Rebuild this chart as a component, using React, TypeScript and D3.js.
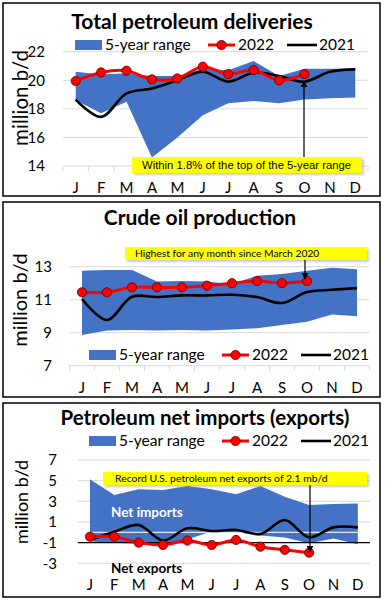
import * as React from "react";
import * as d3 from "d3";

const months = ["J", "F", "M", "A", "M", "J", "J", "A", "S", "O", "N", "D"];

// Total petroleum deliveries (million b/d)
const deliveriesLow = [18.6, 17.7, 18.5, 14.6, 16.0, 17.55, 18.4, 18.55, 18.4, 18.65, 18.75, 18.8];
const deliveriesHigh = [20.6, 20.4, 20.5, 20.3, 20.3, 20.8, 20.7, 21.35, 20.3, 20.8, 20.8, 20.8];
const deliveries2022 = [19.95, 20.55, 20.67, 20.06, 20.13, 20.95, 20.43, 20.71, 20.0, 20.43];
const deliveries2021 = [18.65, 17.44, 19.08, 19.43, 20.0, 20.6, 19.9, 20.53, 20.3, 19.9, 20.6, 20.76];

// Crude oil production (million b/d)
const crudeLow = [8.86, 9.13, 9.17, 9.13, 9.17, 9.13, 9.2, 9.27, 9.47, 9.67, 10.1, 10.0];
const crudeHigh = [12.75, 12.8, 12.8, 12.1, 12.13, 12.1, 11.93, 12.45, 12.56, 12.76, 12.94, 12.84];
const crude2022 = [11.45, 11.45, 11.75, 11.75, 11.75, 11.85, 12.0, 12.13, 12.0, 12.13];
const crude2021 = [11.04, 9.77, 11.18, 11.16, 11.26, 11.26, 11.3, 11.16, 10.8, 11.46, 11.6, 11.7];

// Petroleum net imports (exports) (million b/d)
const netLow = [-0.9, -1.0, -1.1, -1.15, -0.7, 0.1, 0.0, -0.3, -0.5, -1.05, -0.6, -1.15];
const netHigh = [5.13, 3.6, 4.16, 4.1, 4.48, 4.16, 3.68, 4.48, 3.45, 2.65, 2.74, 2.8];
const net2022 = [-0.42, -0.42, -1.0, -1.23, -0.8, -1.23, -0.74, -1.39, -1.7, -1.97];
const net2021 = [-0.74, 0.06, 0.71, -0.8, 0.39, 0.13, 0.23, -0.16, 1.19, -0.48, 0.48, 0.48];

const deliveriesTicks = [14, 16, 18, 20, 22];
const crudeTicks = [7, 9, 11, 13];
const netTicks = [-3, -1, 1, 3, 5, 7];

const FONT = "Lato, 'Open Sans', sans-serif";
const BLUE = "#4472C4";
const RED = "#FF0000";

interface PanelProps {
    box: [number, number, number, number];
    title: string;
    titleX: number;
    titleY: number;
    titleSize: number;
    xRange: [number, number];
    yRange: [number, number];
    domain: [number, number];
    ticks: number[];
    tickX: number;
    legendX: number;
    legendY: number;
    monthY: number;
    xTicks: boolean;
    yLabel: [number, number, number];
    low: number[];
    high: number[];
    s2022: number[];
    s2021: number[];
    note: { text: string, box: [number, number, number, number], font: string, size: number, x: number, arrow: [number, number, number] };
    blackAxisAt?: number;
    zeroLine?: boolean;
    extra?: React.ReactNode;
}

const Panel = (p: PanelProps) => {
    const x = d3.scaleBand<number>().domain(d3.range(12)).range(p.xRange);
    const cx = (i: number) => (x(i) || 0) + x.bandwidth() / 2;
    const y = d3.scaleLinear().domain(p.domain).range(p.yRange);

    const area = d3.area<number>()
        .x((_d, i) => cx(i))
        .y0((_d, i) => y(p.low[i]))
        .y1(d => y(d));

    const line = d3.line<number>()
        .x((_d, i) => cx(i))
        .y(d => y(d))
        .curve(d3.curveCatmullRom);

    const [bx, by, bw, bh] = p.box;
    const lx = p.legendX;
    const ly = p.legendY;
    const [nx, ny, nw, nh] = p.note.box;
    const [ax, ay1, ay2] = p.note.arrow;

    return <g>
        <rect x={bx} y={by} width={bw} height={bh} fill="white" stroke="black" strokeWidth={1.5} />
        <text x={p.titleX} y={p.titleY} textAnchor="middle" fontFamily={FONT} fontWeight="bold" fontSize={p.titleSize}>{p.title}</text>

        {p.ticks.map(t => <g key={t}>
            {t !== p.blackAxisAt && <line x1={p.xRange[0]} x2={p.xRange[1]} y1={y(t)} y2={y(t)} stroke="#d9d9d9" strokeWidth={1} />}
            <text x={p.tickX} y={y(t)} dy="0.35em" textAnchor="end" fontFamily={FONT} fontSize={15}>{t}</text>
        </g>)}

        {p.xTicks && d3.range(13).map(i => {
            const xx = i < 12 ? (x(i) || 0) : p.xRange[1];
            return <line key={i} x1={xx} x2={xx} y1={p.yRange[0]} y2={p.yRange[0] + 5} stroke="#d9d9d9" />;
        })}

        <path d={area(p.high) || ""} fill={BLUE} />
        {p.zeroLine && <line x1={cx(0)} x2={cx(11)} y1={y(0)} y2={y(0)} stroke="#dfe6f3" strokeWidth={1.2} />}
        {p.blackAxisAt !== undefined && <line x1={p.xRange[0]} x2={p.xRange[1]} y1={y(p.blackAxisAt)} y2={y(p.blackAxisAt)} stroke="black" strokeWidth={1.2} />}

        <path d={line(p.s2021) || ""} fill="none" stroke="black" strokeWidth={2.6} />
        <path d={line(p.s2022) || ""} fill="none" stroke={RED} strokeWidth={3} />
        {p.s2022.map((v, i) => <circle key={i} cx={cx(i)} cy={y(v)} r={4.6} fill={RED} stroke="#5a0000" strokeWidth={0.8} />)}

        {months.map((m, i) => <text key={i} x={cx(i)} y={p.monthY} textAnchor="middle" fontFamily={FONT} fontSize={15}>{m}</text>)}

        <text transform={`translate(${p.yLabel[0]},${p.yLabel[1]}) rotate(-90)`} textAnchor="middle" dominantBaseline="central" fontFamily={FONT} fontSize={p.yLabel[2]}>million b/d</text>

        {/* legend */}
        <rect x={lx} y={ly - 5} width={27} height={10} fill={BLUE} />
        <text x={lx + 30} y={ly} dy="0.35em" fontFamily={FONT} fontSize={15.5}>5-year range</text>
        <line x1={lx + 133} x2={lx + 160} y1={ly} y2={ly} stroke={RED} strokeWidth={3} />
        <circle cx={lx + 146.5} cy={ly} r={4.6} fill={RED} stroke="#5a0000" strokeWidth={0.8} />
        <text x={lx + 163} y={ly} dy="0.35em" fontFamily={FONT} fontSize={15.5}>2022</text>
        <line x1={lx + 212} x2={lx + 242} y1={ly} y2={ly} stroke="black" strokeWidth={2.6} />
        <text x={lx + 244} y={ly} dy="0.35em" fontFamily={FONT} fontSize={15.5}>2021</text>

        {p.extra}

        {/* annotation */}
        <rect x={nx + 2} y={ny + 2} width={nw} height={nh} fill="#999" opacity={0.5} filter="url(#blur)" />
        <rect x={nx} y={ny} width={nw} height={nh} fill="#FFFF00" />
        <text x={p.note.x} y={ny + nh / 2} dy="0.35em" fontFamily={p.note.font} fontSize={p.note.size}>{p.note.text}</text>
        <line x1={ax} x2={ax} y1={ay1} y2={ay2} stroke="black" strokeWidth={1.2} markerEnd="url(#arrow)" />
    </g>;
};

export default function App() {
    return <svg width={385} height={603} style={{ position: "absolute", left: 0, top: 0, background: "white" }}>
        <defs>
            <marker id="arrow" viewBox="0 0 10 10" refX={9} refY={5} markerWidth={7} markerHeight={7} markerUnits="userSpaceOnUse" orient="auto">
                <path d="M0,0 L10,5 L0,10 z" fill="black" />
            </marker>
            <filter id="blur" x="-10%" y="-50%" width="120%" height="200%">
                <feGaussianBlur stdDeviation={1.2} />
            </filter>
        </defs>

        <Panel box={[3, 3, 377, 193]} title="Total petroleum deliveries" titleX={192} titleY={29} titleSize={21}
            xRange={[63, 368]} yRange={[166, 51.7]} domain={[14, 22]} ticks={deliveriesTicks} tickX={45}
            legendX={75} legendY={45} monthY={193} xTicks={true} yLabel={[20, 98, 20.5]}
            low={deliveriesLow} high={deliveriesHigh} s2022={deliveries2022} s2021={deliveries2021}
            note={{ text: "Within 1.8% of the top of the 5-year range", box: [132, 157, 230, 16], font: "'Liberation Sans', Arial, sans-serif", size: 11.3, x: 142, arrow: [304, 157, 81] }} />

        <Panel box={[3, 202, 377, 195]} title="Crude oil production" titleX={200} titleY={225} titleSize={21}
            xRange={[69.5, 369.5]} yRange={[365.7, 266.7]} domain={[7, 13]} ticks={crudeTicks} tickX={52}
            legendX={89} legendY={355} monthY={393} xTicks={true} yLabel={[19, 300, 20]}
            low={crudeLow} high={crudeHigh} s2022={crude2022} s2021={crude2021}
            note={{ text: "Highest for any month since March 2020", box: [125, 247, 242, 13], font: FONT, size: 10.3, x: 135, arrow: [305, 260, 279] }} />

        <Panel box={[3, 403, 377, 194]} title="Petroleum net imports (exports)" titleX={205} titleY={425} titleSize={20.5}
            xRange={[77.8, 370]} yRange={[563.3, 460]} domain={[-3, 7]} ticks={netTicks} tickX={57}
            legendX={89} legendY={441} monthY={590} xTicks={false} yLabel={[21, 502, 18]}
            low={netLow} high={netHigh} s2022={net2022} s2021={net2021}
            blackAxisAt={-1} zeroLine={true}
            note={{ text: "Record U.S. petroleum net exports of 2.1 mb/d", box: [103, 472, 264, 13], font: FONT, size: 10.4, x: 115, arrow: [310, 485, 552] }}
            extra={<>
                <text x={111} y={517} fontFamily={FONT} fontWeight="bold" fontSize={13.5} fill="white">Net imports</text>
                <text x={111} y={573} fontFamily={FONT} fontWeight="bold" fontSize={13.5}>Net exports</text>
            </>} />
    </svg>;
}
